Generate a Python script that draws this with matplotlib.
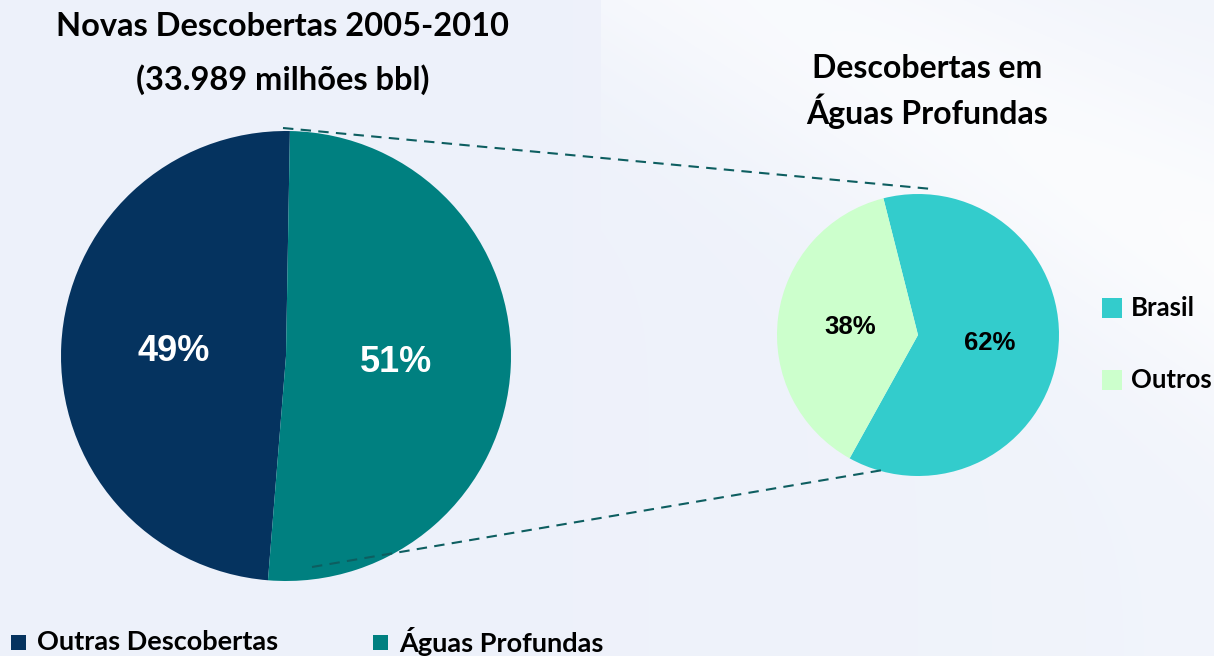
#!/usr/bin/env python3

import numpy as np
import matplotlib
matplotlib.use("Agg")
import matplotlib.pyplot as plt
from matplotlib.patches import Rectangle

# data
main_labels = ["Outras Descobertas", "Águas Profundas"]
main_values = [49, 51]
main_colors = ["#05335F", "#008080"]

deep_labels = ["Brasil", "Outros"]
deep_values = [62, 38]
deep_colors = ["#33CCCC", "#CCFFCC"]

W, H = 1214, 656
TITLE_FONT = "Lato"


def frac(x, y):
    # pixel (from top-left) -> figure fraction
    return x / W, 1 - y / H


def pie_axes(fig, cx, cy, r):
    ax = fig.add_axes([(cx - r) / W, 1 - (cy + r) / H, 2 * r / W, 2 * r / H])
    return ax


fig = plt.figure(figsize=(W / 100, H / 100), dpi=100)

# soft bluish background
bg = fig.add_axes([0, 0, 1, 1], zorder=-10)
yy, xx = np.mgrid[0:H, 0:W]
base = np.array([237, 241, 250]) / 255.0
band = np.exp(-((xx * 0.55 - yy * 1.0 - 420) / 160.0) ** 2) * (xx > 600)
light = np.clip(0.55 * band + 0.25 * (xx / W) ** 2, 0, 1)
img = base[None, None, :] * (1 - light[..., None]) + light[..., None] * 1.0
bg.imshow(img, extent=[0, W, H, 0], aspect="auto")
bg.axis("off")

# overlay for connectors / legend squares, in pixel coords
ov = fig.add_axes([0, 0, 1, 1], zorder=5)
ov.set_xlim(0, W)
ov.set_ylim(H, 0)
ov.axis("off")

# main pie
big_c, big_r = (286, 356), 225
ax1 = pie_axes(fig, big_c[0], big_c[1], big_r)
ax1.pie(main_values, colors=main_colors, startangle=89, counterclock=True,
        wedgeprops=dict(linewidth=0))
ax1.set_xlim(-1, 1)
ax1.set_ylim(-1, 1)
for txt, pos in zip([f"{v}%" for v in main_values], [(-0.50, 0.02), (0.49, -0.03)]):
    ax1.text(pos[0], pos[1], txt, ha="center", va="center", color="white",
             fontsize=26, fontweight="bold", family="Liberation Sans")

# deep water pie
sm_c, sm_r = (918, 335), 141
ax2 = pie_axes(fig, sm_c[0], sm_c[1], sm_r)
ax2.pie(deep_values, colors=deep_colors, startangle=241, counterclock=True,
        wedgeprops=dict(linewidth=0))
ax2.set_xlim(-1, 1)
ax2.set_ylim(-1, 1)
for txt, pos in zip([f"{v}%" for v in deep_values], [(0.51, -0.06), (-0.48, 0.06)]):
    ax2.text(pos[0], pos[1], txt, ha="center", va="center", color="black",
             fontsize=18.5, fontweight="bold", family="Liberation Sans")

# dashed connectors between the pies
line_kw = dict(color="#0D5E60", linestyle=(0, (5, 3.5)), linewidth=1.5)
ov.plot([283, 932], [128, 189], **line_kw)
ov.plot([312, 883], [567, 470], **line_kw)

# titles
fig.text(*frac(283, 26), "Novas Descobertas 2005-2010", ha="center", va="center",
         fontsize=23.5, fontweight="bold", family=TITLE_FONT)
fig.text(*frac(283, 80), "(33.989 milhões bbl)", ha="center", va="center",
         fontsize=23.5, fontweight="bold", family=TITLE_FONT)
fig.text(*frac(927, 69), "Descobertas em", ha="center", va="center",
         fontsize=23, fontweight="bold", family=TITLE_FONT)
fig.text(*frac(927, 111), "Águas Profundas", ha="center", va="center",
         fontsize=23, fontweight="bold", family=TITLE_FONT)

# right legend
for i, (lab, col) in enumerate(zip(deep_labels, deep_colors)):
    y = 308 + i * 72
    ov.add_patch(Rectangle((1102, y - 10), 20, 20, color=col, lw=0))
    ov.text(1131, y, lab, ha="left", va="center", fontsize=18.5,
            fontweight="bold", family=TITLE_FONT)

# bottom legend
for i, (lab, col) in enumerate(zip(main_labels, main_colors)):
    x = 11 + i * 362
    ov.add_patch(Rectangle((x, 635), 15, 15, color=col, lw=0))
    ov.text(x + 26, 642, lab, ha="left", va="center", fontsize=19.5,
            fontweight="bold", family=TITLE_FONT)

fig.savefig("out.png", dpi=100)
